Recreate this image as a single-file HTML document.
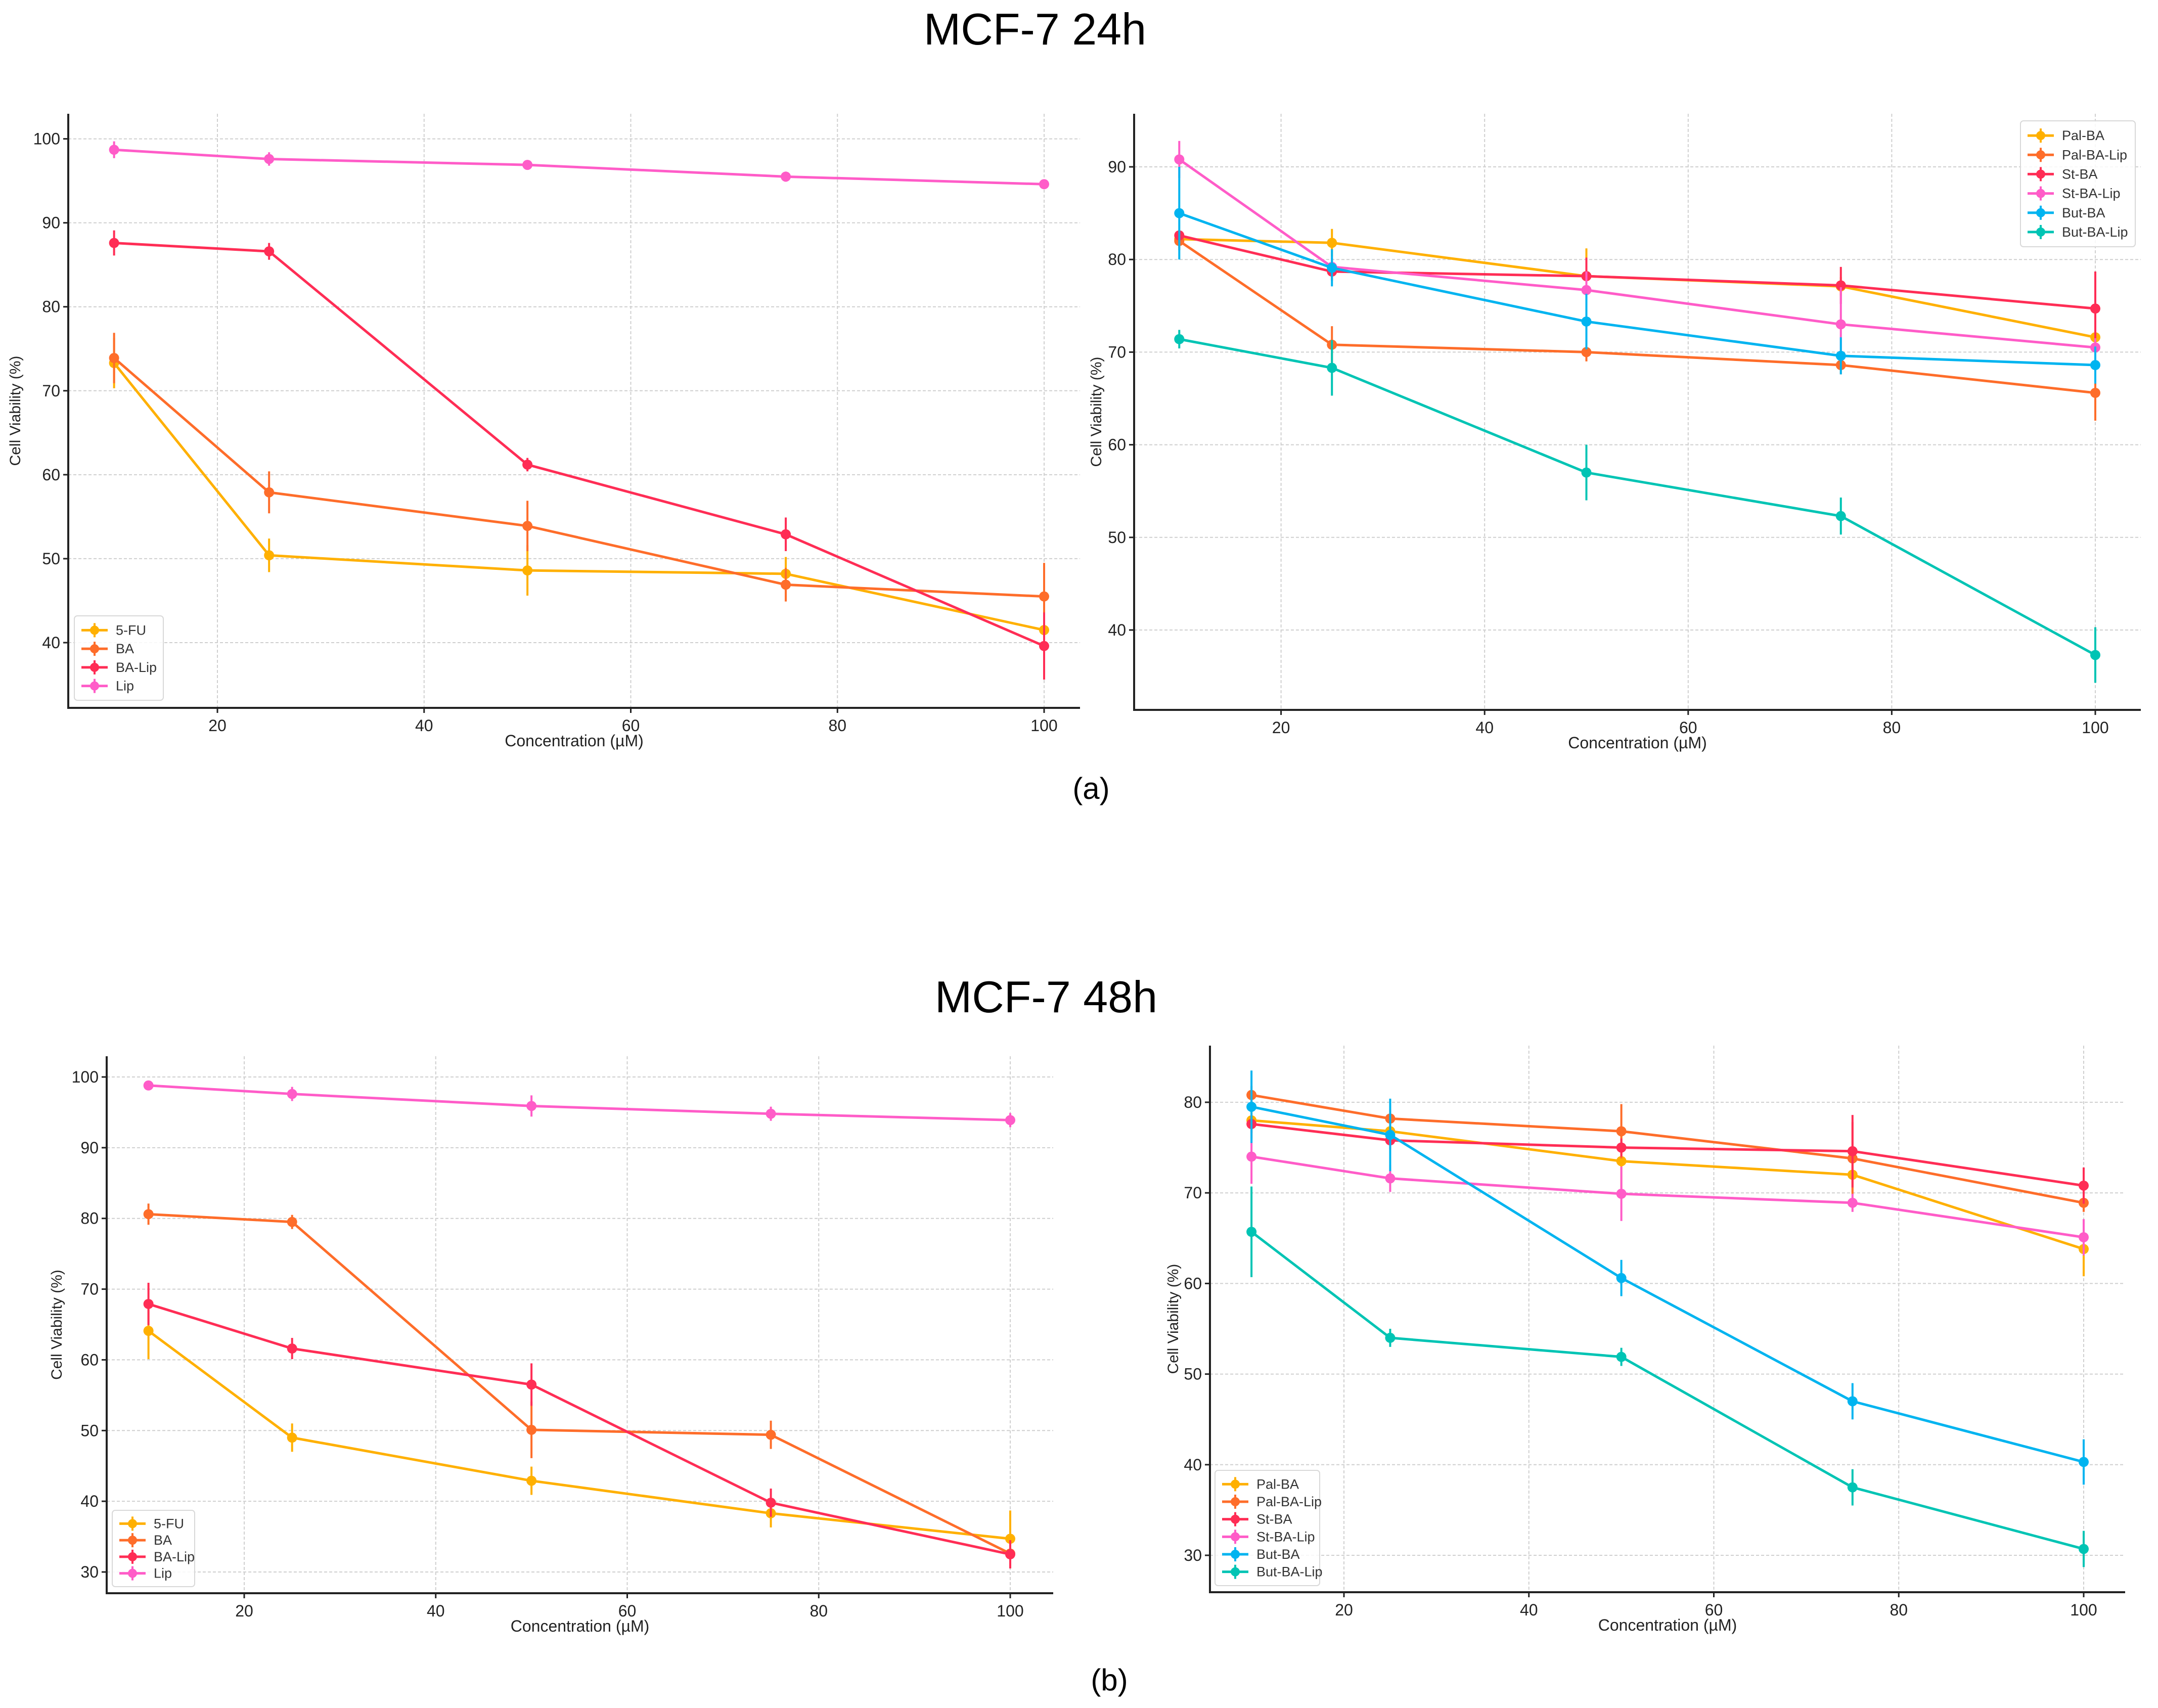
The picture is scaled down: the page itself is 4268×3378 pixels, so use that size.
<!DOCTYPE html>
<html><head><meta charset="utf-8">
<style>
html,body{margin:0;padding:0;background:#fff;}
svg{display:block;font-family:"Liberation Sans","DejaVu Sans",sans-serif;}
</style></head>
<body>
<svg id="fig" width="4268" height="3378" viewBox="0 0 4268 3378" xmlns="http://www.w3.org/2000/svg">
<rect width="4268" height="3378" fill="#fff"/>
<text x="2047" y="88" font-size="88" text-anchor="middle" fill="#000">MCF-7 24h</text>
<text x="2069" y="2002" font-size="88" text-anchor="middle" fill="#000">MCF-7 48h</text>
<text x="2158" y="1580" font-size="60" text-anchor="middle" fill="#000">(a)</text>
<text x="2194" y="3343" font-size="60" text-anchor="middle" fill="#000">(b)</text>
</svg>
<script>
const xs=[10,25,50,75,100];
const xTicks=[20,40,60,80,100];
// chart A (24h, left)
const a_5fu=[73.3,50.4,48.6,48.2,41.5], a_5fu_e=[3,2,3,2,2];
const a_ba=[73.9,57.9,53.9,46.9,45.5], a_ba_e=[3,2.5,3,2,4];
const a_balip=[87.6,86.6,61.2,52.9,39.6], a_balip_e=[1.5,1,0.8,2,4];
const a_lip=[98.7,97.6,96.9,95.5,94.6], a_lip_e=[1,0.8,0.5,0.6,0.3];
const a_yTicks=[40,50,60,70,80,90,100];
// chart B (24h, right)
const b_palba=[82.2,81.8,78.2,77.1,71.6], b_palba_e=[1,1.5,3,1,1];
const b_palbalip=[82.0,70.8,70.0,68.6,65.6], b_palbalip_e=[1,2,1,1,3];
const b_stba=[82.6,78.7,78.2,77.2,74.7], b_stba_e=[0.5,1,2,2,4];
const b_stbalip=[90.8,79.2,76.7,73.0,70.5], b_stbalip_e=[2,1,2,4,1];
const b_butba=[85.0,79.1,73.3,69.6,68.6], b_butba_e=[5,2,3,2,2];
const b_butbalip=[71.4,68.3,57.0,52.3,37.3], b_butbalip_e=[1,3,3,2,3];
const b_yTicks=[40,50,60,70,80,90];
// chart C (48h, left)
const c_5fu=[64.1,49.0,42.9,38.3,34.7], c_5fu_e=[4,2,2,2,4];
const c_ba=[80.6,79.5,50.1,49.4,32.6], c_ba_e=[1.5,1,4,2,1];
const c_balip=[67.9,61.6,56.5,39.8,32.5], c_balip_e=[3,1.5,3,2,2];
const c_lip=[98.8,97.6,95.9,94.8,93.9], c_lip_e=[0.5,1,1.5,1,1];
const c_yTicks=[30,40,50,60,70,80,90,100];
// chart D (48h, right)
const d_palba=[78.0,76.8,73.5,72.0,63.8], d_palba_e=[2,2,3,2,3];
const d_palbalip=[80.8,78.2,76.8,73.8,68.9], d_palbalip_e=[1,1,3,4,1];
const d_stba=[77.6,75.8,75.0,74.6,70.8], d_stba_e=[1,1,1,4,2];
const d_stbalip=[74.0,71.6,69.9,68.9,65.1], d_stbalip_e=[3,1.5,3,1,2];
const d_butba=[79.5,76.4,60.6,47.0,40.3], d_butba_e=[4,4,2,2,2.5];
const d_butbalip=[65.7,54.0,51.9,37.5,30.7], d_butbalip_e=[5,1,1,2,2];
const d_yTicks=[30,40,50,60,70,80];

const C1=["#FFB000","#FE6D2A","#FF2D55","#FF5CC8"];
const C2=["#FFB000","#FE6D2A","#FF2D55","#FF5CC8","#00B4F0","#00C4B4"];
const NS="http://www.w3.org/2000/svg";
const svg=document.getElementById('fig');
function mk(tag,attrs,parent){const e=document.createElementNS(NS,tag);for(const k in attrs)e.setAttribute(k,attrs[k]);(parent||svg).appendChild(e);return e;}

function chart(cfg){
  const g=mk('g',{});
  
  
  const xPx=v=>cfg.x20+(v-20)*(cfg.x100-cfg.x20)/80;
  const yPx=v=>cfg.yA+(v-cfg.vA)*(cfg.yB-cfg.yA)/(cfg.vB-cfg.vA);
  xTicks.forEach(t=>{
    const l=mk('line',{x1:xPx(t),x2:xPx(t),y1:cfg.top,y2:cfg.bottom,stroke:"#cfcfcf","stroke-width":2,"stroke-dasharray":"6,4"},g);
    
    
  });
  cfg.yTicks.forEach(t=>{
    const l=mk('line',{x1:cfg.left,x2:cfg.right,y1:yPx(t),y2:yPx(t),stroke:"#cfcfcf","stroke-width":2,"stroke-dasharray":"6,4"},g);
    
    
  });
  const ax=mk('path',{d:`M${cfg.left},${cfg.top}V${cfg.bottom}H${cfg.right}`,fill:"none",stroke:"#222","stroke-width":4},g);
  
  
  xTicks.forEach(t=>{
    mk('line',{x1:xPx(t),x2:xPx(t),y1:cfg.bottom,y2:cfg.bottom+10,stroke:"#222","stroke-width":3},g);
    const tx=mk('text',{x:xPx(t),y:cfg.bottom+46,"font-size":32,"text-anchor":"middle",fill:"#222"},g);
    tx.textContent=t;
    
    
  });
  cfg.yTicks.forEach(t=>{
    mk('line',{x1:cfg.left-10,x2:cfg.left,y1:yPx(t),y2:yPx(t),stroke:"#222","stroke-width":3},g);
    const tx=mk('text',{x:cfg.left-16,y:yPx(t)+11,"font-size":32,"text-anchor":"end",fill:"#222"},g);
    tx.textContent=t;
    
    
  });
  const xt=mk('text',{x:(cfg.left+cfg.right)/2,y:cfg.bottom+76,"font-size":32,"text-anchor":"middle",fill:"#222"},g);
  xt.textContent="Concentration (µM)";
  
  
  const yc=(cfg.top+cfg.bottom)/2;
  const yt=mk('text',{x:cfg.ytx,y:yc,"font-size":30,"text-anchor":"middle",fill:"#222",transform:`rotate(-90 ${cfg.ytx} ${yc})`},g);
  yt.textContent="Cell Viability (%)";
  
  
  cfg.series.forEach((s,i)=>{
    const sg=mk('g',{},g);
    
    
    const col=cfg.colors[i];
    mk('polyline',{points:xs.map((x,j)=>xPx(x)+","+yPx(s.v[j])).join(" "),fill:"none",stroke:col,"stroke-width":5,"stroke-linejoin":"round"},sg);
    xs.forEach((x,j)=>{
      const eb=mk('line',{x1:xPx(x),x2:xPx(x),y1:yPx(s.v[j]-s.e[j]),y2:yPx(s.v[j]+s.e[j]),stroke:col,"stroke-width":4},sg);
      
      
      const p=mk('circle',{cx:xPx(x),cy:yPx(s.v[j]),r:10,fill:col},sg);
      
      
    });
  });
  const L=cfg.legend;
  const lg=mk('g',{},g);
  
  
  mk('rect',{x:L.x,y:L.y,width:L.w,height:L.h,rx:6,fill:"#fff","fill-opacity":0.85,stroke:"#d8d8d8","stroke-width":2},lg);
  const step=(L.h-20)/cfg.series.length;
  cfg.series.forEach((s,i)=>{
    const cy=L.y+10+step*(i+0.5);
    const eg=mk('g',{},lg);
    
    
    mk('line',{x1:L.x+14,x2:L.x+66,y1:cy,y2:cy,stroke:cfg.colors[i],"stroke-width":5},eg);
    mk('line',{x1:L.x+40,x2:L.x+40,y1:cy-14,y2:cy+14,stroke:cfg.colors[i],"stroke-width":4},eg);
    mk('circle',{cx:L.x+40,cy:cy,r:9,fill:cfg.colors[i]},eg);
    const t=mk('text',{x:L.x+82,y:cy+9,"font-size":27,fill:"#333"},eg);
    t.textContent=s.label;
  });
}

chart({name:"chart-24h-left",left:135,right:2136,top:225,bottom:1400,x20:430,x100:2065,yA:274.6,vA:100,yB:1271,vB:40,yTicks:a_yTicks,ytx:40,colors:C1,
  series:[{label:"5-FU",v:a_5fu,e:a_5fu_e},{label:"BA",v:a_ba,e:a_ba_e},{label:"BA-Lip",v:a_balip,e:a_balip_e},{label:"Lip",v:a_lip,e:a_lip_e}],
  legend:{x:147,y:1218,w:176,h:167}});
chart({name:"chart-24h-right",left:2243,right:4234,top:225,bottom:1404,x20:2533.6,x100:4144,yA:330,vA:90,yB:1246,vB:40,yTicks:b_yTicks,ytx:2178,colors:C2,
  series:[{label:"Pal-BA",v:b_palba,e:b_palba_e},{label:"Pal-BA-Lip",v:b_palbalip,e:b_palbalip_e},{label:"St-BA",v:b_stba,e:b_stba_e},{label:"St-BA-Lip",v:b_stbalip,e:b_stbalip_e},{label:"But-BA",v:b_butba,e:b_butba_e},{label:"But-BA-Lip",v:b_butbalip,e:b_butbalip_e}],
  legend:{x:3996,y:239,w:227,h:249}});
chart({name:"chart-48h-left",left:211,right:2083,top:2089,bottom:3151,x20:483,x100:1998,yA:2130,vA:100,yB:3109,vB:30,yTicks:c_yTicks,ytx:122,colors:C1,
  series:[{label:"5-FU",v:c_5fu,e:c_5fu_e},{label:"BA",v:c_ba,e:c_ba_e},{label:"BA-Lip",v:c_balip,e:c_balip_e},{label:"Lip",v:c_lip,e:c_lip_e}],
  legend:{x:222,y:2987,w:163,h:151}});
chart({name:"chart-48h-right",left:2393,right:4203,top:2068,bottom:3149,x20:2658,x100:4121,yA:2180,vA:80,yB:3076,vB:30,yTicks:d_yTicks,ytx:2330,colors:C2,
  series:[{label:"Pal-BA",v:d_palba,e:d_palba_e},{label:"Pal-BA-Lip",v:d_palbalip,e:d_palbalip_e},{label:"St-BA",v:d_stba,e:d_stba_e},{label:"St-BA-Lip",v:d_stbalip,e:d_stbalip_e},{label:"But-BA",v:d_butba,e:d_butba_e},{label:"But-BA-Lip",v:d_butbalip,e:d_butbalip_e}],
  legend:{x:2403,y:2908,w:207,h:228}});
</script>
</body></html>
